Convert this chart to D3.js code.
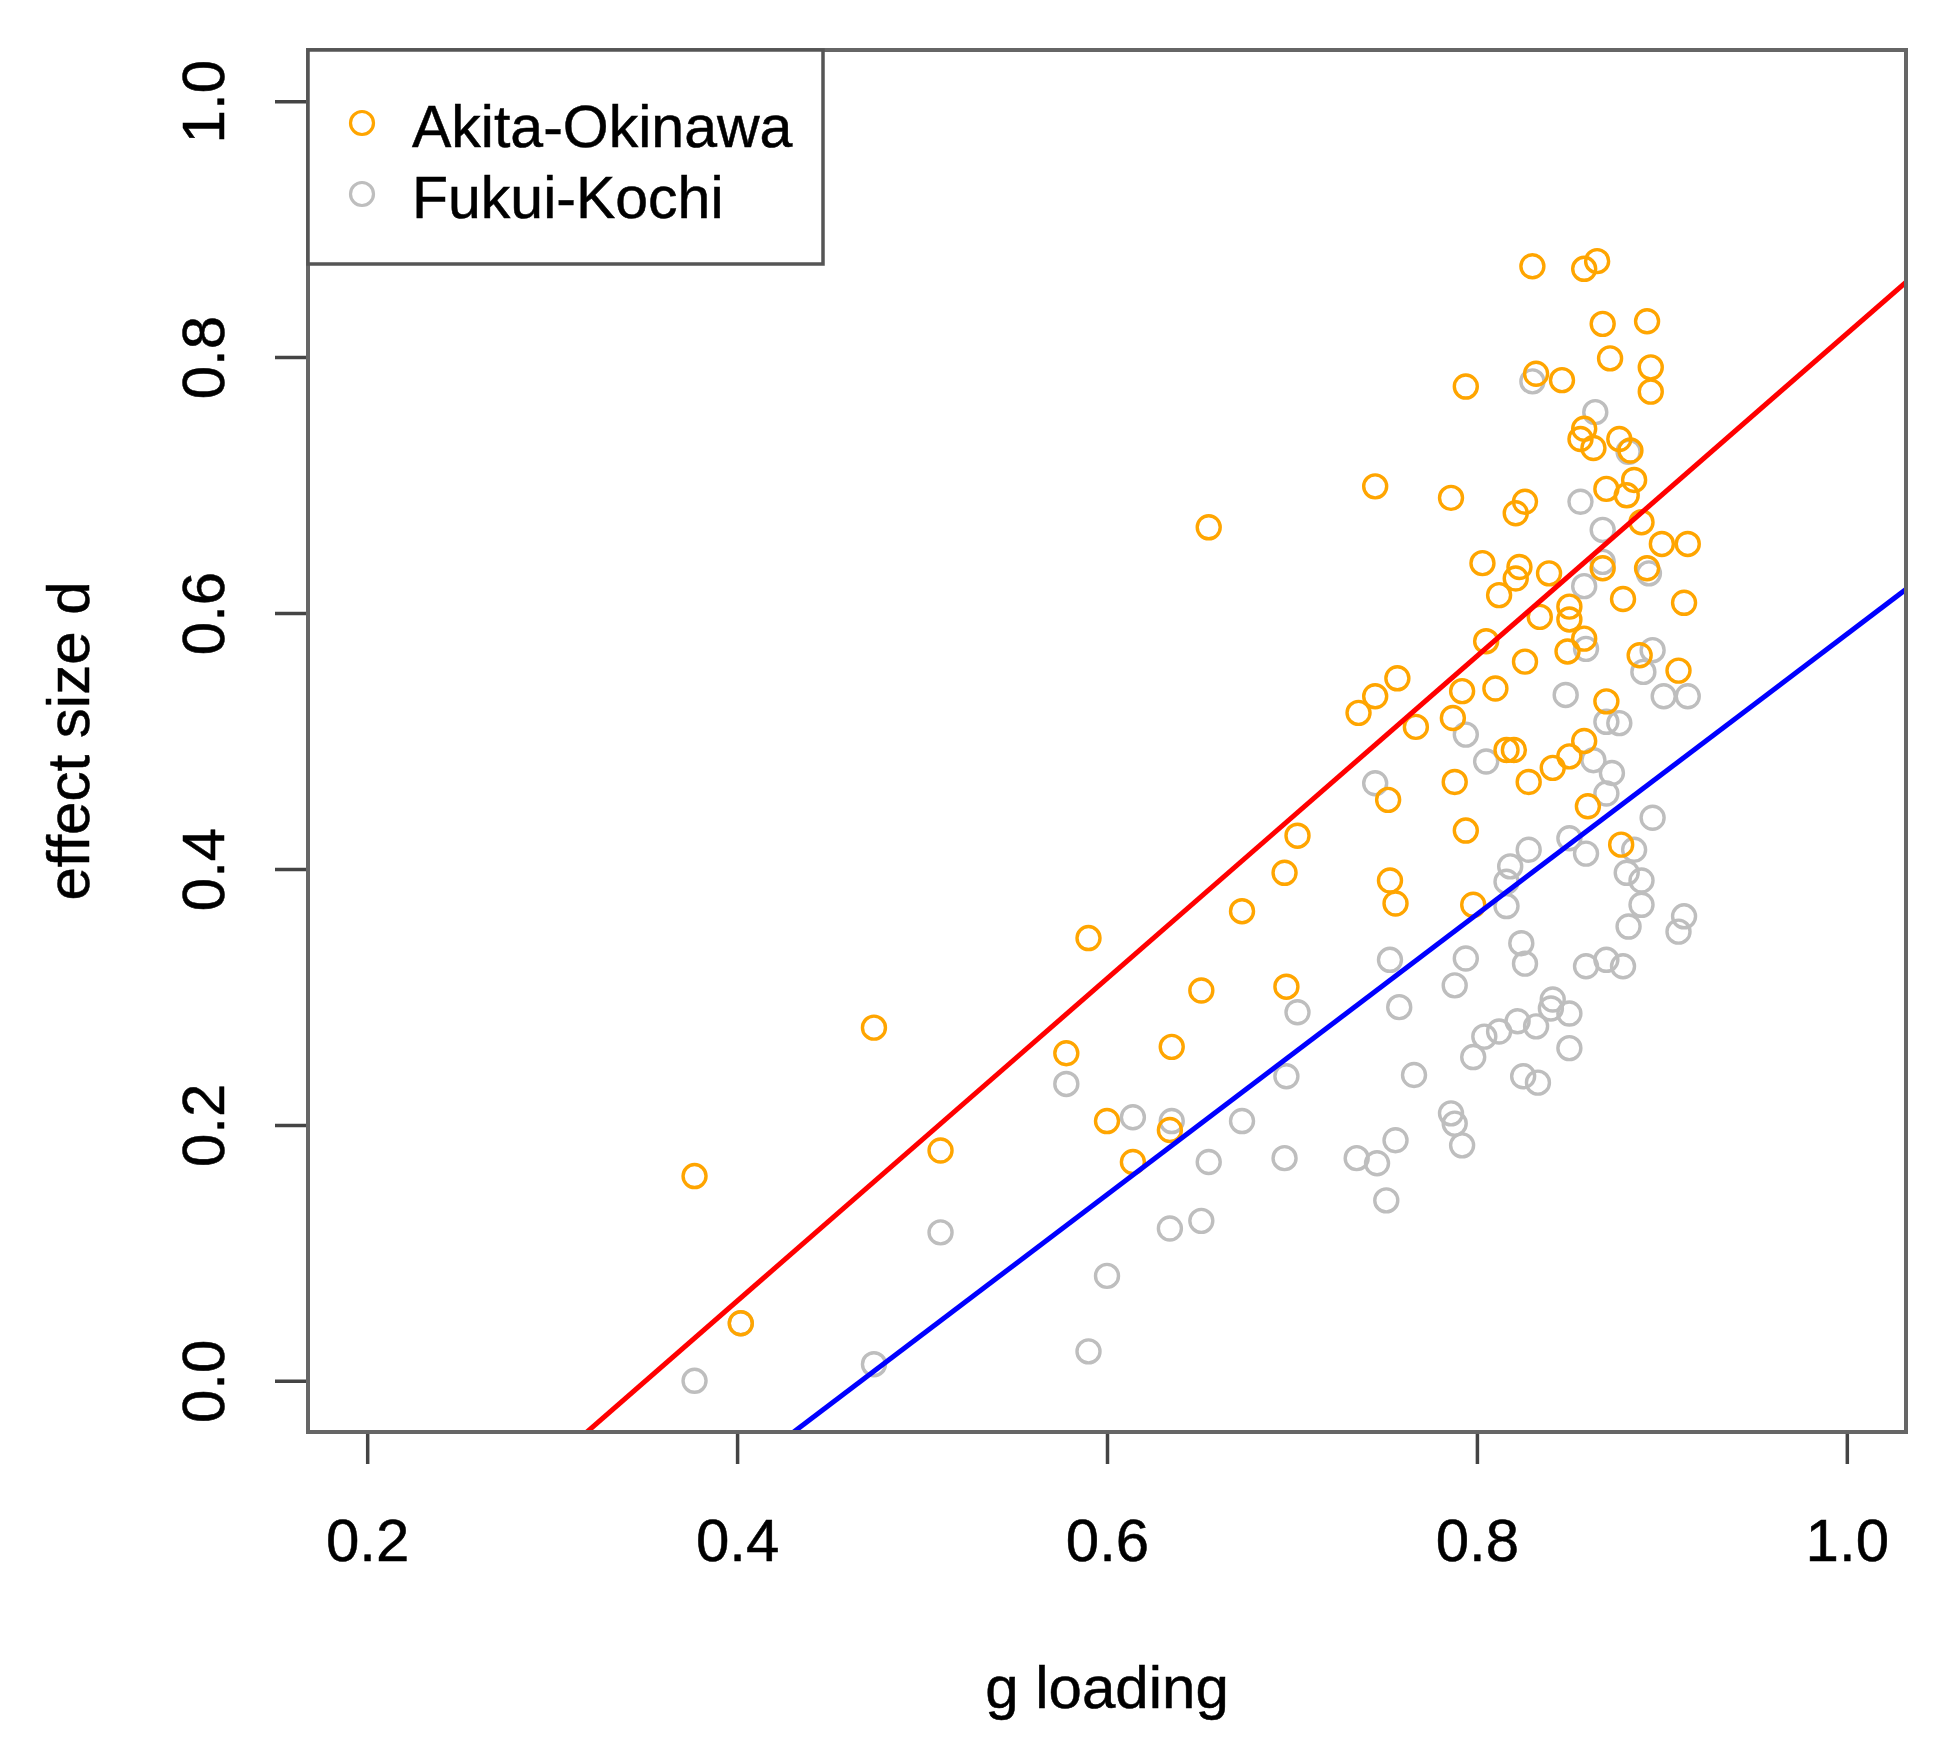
<!DOCTYPE html>
<html>
<head>
<meta charset="utf-8">
<script src="https://cdn.jsdelivr.net/npm/d3@7"></script>
<style>
  html, body { margin: 0; padding: 0; background: #ffffff; }
  svg { display: block; }
  text { font-family: "Liberation Sans", Arial, sans-serif; fill: #000; stroke: #000; stroke-width: 0.5px; }
</style>
</head>
<body>
<svg id="chart" width="1942" height="1743"></svg>
<script>
// ---------- data ----------
const seriesNames = ["Akita-Okinawa", "Fukui-Kochi"];
const seriesColors = ["#FFA500", "#BEBEBE"];

// [g loading, effect size d]
const akitaOkinawa = [
  [0.377,0.160],[0.402,0.045],[0.474,0.276],[0.510,0.180],[0.578,0.256],[0.590,0.346],
  [0.600,0.203],[0.614,0.171],[0.635,0.261],[0.634,0.196],[0.651,0.305],[0.655,0.667],
  [0.673,0.367],[0.696,0.397],[0.697,0.308],[0.703,0.426],
  [0.830,0.871],[0.858,0.869],[0.865,0.875],[0.868,0.826],[0.892,0.828],[0.872,0.799],
  [0.894,0.792],[0.894,0.773],[0.832,0.787],[0.846,0.782],[0.794,0.777],[0.745,0.699],
  [0.786,0.690],[0.826,0.687],[0.821,0.678],[0.858,0.744],[0.856,0.736],[0.863,0.729],
  [0.877,0.736],[0.883,0.727],[0.870,0.697],[0.885,0.704],[0.881,0.692],[0.889,0.671],
  [0.900,0.654],[0.914,0.654],
  [0.803,0.639],[0.823,0.636],[0.821,0.627],[0.839,0.631],[0.812,0.614],[0.868,0.635],
  [0.892,0.635],[0.879,0.611],[0.912,0.608],[0.850,0.605],[0.850,0.595],[0.834,0.597],
  [0.858,0.580],[0.849,0.570],[0.805,0.578],[0.826,0.562],[0.888,0.567],[0.909,0.555],
  [0.757,0.549],[0.745,0.535],[0.736,0.522],[0.792,0.539],[0.810,0.541],[0.787,0.518],
  [0.767,0.511],[0.870,0.531],[0.816,0.493],[0.820,0.493],[0.858,0.500],[0.850,0.488],
  [0.841,0.479],[0.828,0.468],[0.788,0.468],[0.752,0.454],[0.860,0.449],[0.794,0.430],
  [0.878,0.419],[0.753,0.391],[0.756,0.373],[0.798,0.372]
];

const fukuiKochi = [
  [0.377,0.000],[0.402,0.045],[0.474,0.013],[0.510,0.116],[0.578,0.232],[0.590,0.023],
  [0.600,0.082],[0.614,0.206],[0.635,0.203],[0.634,0.119],[0.651,0.125],[0.655,0.171],
  [0.673,0.203],[0.696,0.174],[0.697,0.238],[0.703,0.288],
  [0.830,0.781],[0.864,0.757],[0.882,0.726],[0.856,0.687],[0.868,0.665],
  [0.868,0.640],[0.858,0.621],[0.893,0.631],[0.859,0.572],[0.895,0.571],[0.890,0.554],
  [0.848,0.536],[0.901,0.535],[0.914,0.535],[0.870,0.515],[0.877,0.514],[0.794,0.505],
  [0.805,0.484],[0.863,0.485],[0.873,0.475],[0.745,0.467],[0.870,0.459],[0.895,0.440],
  [0.885,0.415],[0.850,0.424],[0.859,0.412],[0.828,0.415],[0.818,0.402],[0.816,0.390],
  [0.881,0.397],[0.889,0.391],
  [0.816,0.371],[0.889,0.372],[0.882,0.355],[0.912,0.363],[0.909,0.351],[0.824,0.342],
  [0.826,0.326],[0.753,0.329],[0.794,0.330],[0.788,0.309],[0.859,0.324],[0.870,0.329],
  [0.879,0.324],[0.758,0.292],[0.841,0.298],[0.840,0.291],[0.850,0.287],[0.832,0.277],
  [0.822,0.281],[0.812,0.273],[0.804,0.269],[0.798,0.253],[0.850,0.260],[0.766,0.239],
  [0.825,0.238],[0.833,0.233],[0.786,0.209],[0.788,0.201],[0.792,0.184],[0.756,0.188],
  [0.735,0.174],[0.746,0.170],[0.751,0.141]
];

// regression lines: [intercept, slope]
const fitAkitaOkinawa = [-0.4417, 1.26];
const fitFukuiKochi = [-0.5115, 1.095];
const fitColors = ["#FF0000", "#0000FF"];

const xTicks = [0.2, 0.4, 0.6, 0.8, 1.0];
const yTicks = [0.0, 0.2, 0.4, 0.6, 0.8, 1.0];
const xDomain = [0.168, 1.032];
const yDomain = [-0.04, 1.04];
const xTitle = "g loading";
const yTitle = "effect size d";

// ---------- layout ----------
const L = 308, R = 1906, T = 50, B = 1432;
const FS = 60;
const svg = d3.select("#chart");
const x = d3.scaleLinear().domain(xDomain).range([L, R]);
const y = d3.scaleLinear().domain(yDomain).range([B, T]);

svg.append("defs").append("clipPath").attr("id", "plotclip")
  .append("rect").attr("x", L).attr("y", T).attr("width", R - L).attr("height", B - T);

// points
const pts = svg.append("g");
[[fukuiKochi, seriesColors[1]], [akitaOkinawa, seriesColors[0]]].forEach(([data, col]) => {
  pts.append("g").selectAll("circle").data(data).join("circle")
    .attr("cx", d => x(d[0])).attr("cy", d => y(d[1])).attr("r", 11.5)
    .attr("fill", "none").attr("stroke", col).attr("stroke-width", 3.4);
});

// regression lines
const lines = svg.append("g").attr("clip-path", "url(#plotclip)");
[fitAkitaOkinawa, fitFukuiKochi].forEach((f, i) => {
  lines.append("line")
    .attr("x1", x(xDomain[0])).attr("y1", y(f[0] + f[1] * xDomain[0]))
    .attr("x2", x(xDomain[1])).attr("y2", y(f[0] + f[1] * xDomain[1]))
    .attr("stroke", fitColors[i]).attr("stroke-width", 5);
});

// axes
const xAxis = svg.append("g").attr("transform", `translate(0,${B})`)
  .call(d3.axisBottom(x).tickValues(xTicks).tickSize(32).tickFormat(d3.format(".1f")));
xAxis.select(".domain").remove();
xAxis.selectAll(".tick line").attr("stroke", "#444").attr("stroke-width", 3.5);
xAxis.selectAll(".tick text").attr("y", 129).attr("dy", null)
  .attr("font-size", FS).attr("fill", "#000").attr("text-anchor", "middle")
  .style("font-family", '"Liberation Sans", Arial, sans-serif');

const yAxis = svg.append("g").attr("transform", `translate(${L},0)`)
  .call(d3.axisLeft(y).tickValues(yTicks).tickSize(33).tickFormat(d3.format(".1f")));
yAxis.select(".domain").remove();
yAxis.selectAll(".tick line").attr("stroke", "#444").attr("stroke-width", 3.5);
yAxis.selectAll(".tick text").attr("x", null).attr("dy", null)
  .attr("transform", "translate(-84,0) rotate(-90)")
  .attr("font-size", FS).attr("fill", "#000").attr("text-anchor", "middle")
  .style("font-family", '"Liberation Sans", Arial, sans-serif');

// plot box
svg.append("rect").attr("x", L).attr("y", T).attr("width", R - L).attr("height", B - T)
  .attr("fill", "none").attr("stroke", "#666").attr("stroke-width", 4);

// axis titles
svg.append("text").attr("x", (L + R) / 2).attr("y", 1708)
  .attr("text-anchor", "middle").attr("font-size", FS).text(xTitle);
svg.append("text").attr("transform", `translate(89,${(T + B) / 2}) rotate(-90)`)
  .attr("text-anchor", "middle").attr("font-size", FS).text(yTitle);

// legend
const leg = svg.append("g");
leg.append("rect").attr("x", L).attr("y", T).attr("width", 823 - L).attr("height", 264 - T)
  .attr("fill", "#fff").attr("stroke", "#555").attr("stroke-width", 3.5);
const legRows = [123, 194];
seriesNames.forEach((name, i) => {
  leg.append("circle").attr("cx", 362).attr("cy", legRows[i]).attr("r", 11.5)
    .attr("fill", "none").attr("stroke", seriesColors[i]).attr("stroke-width", 3.2);
  leg.append("text").attr("x", 412).attr("y", legRows[i] + 24)
    .attr("font-size", 59).text(name);
});
</script>
</body>
</html>
